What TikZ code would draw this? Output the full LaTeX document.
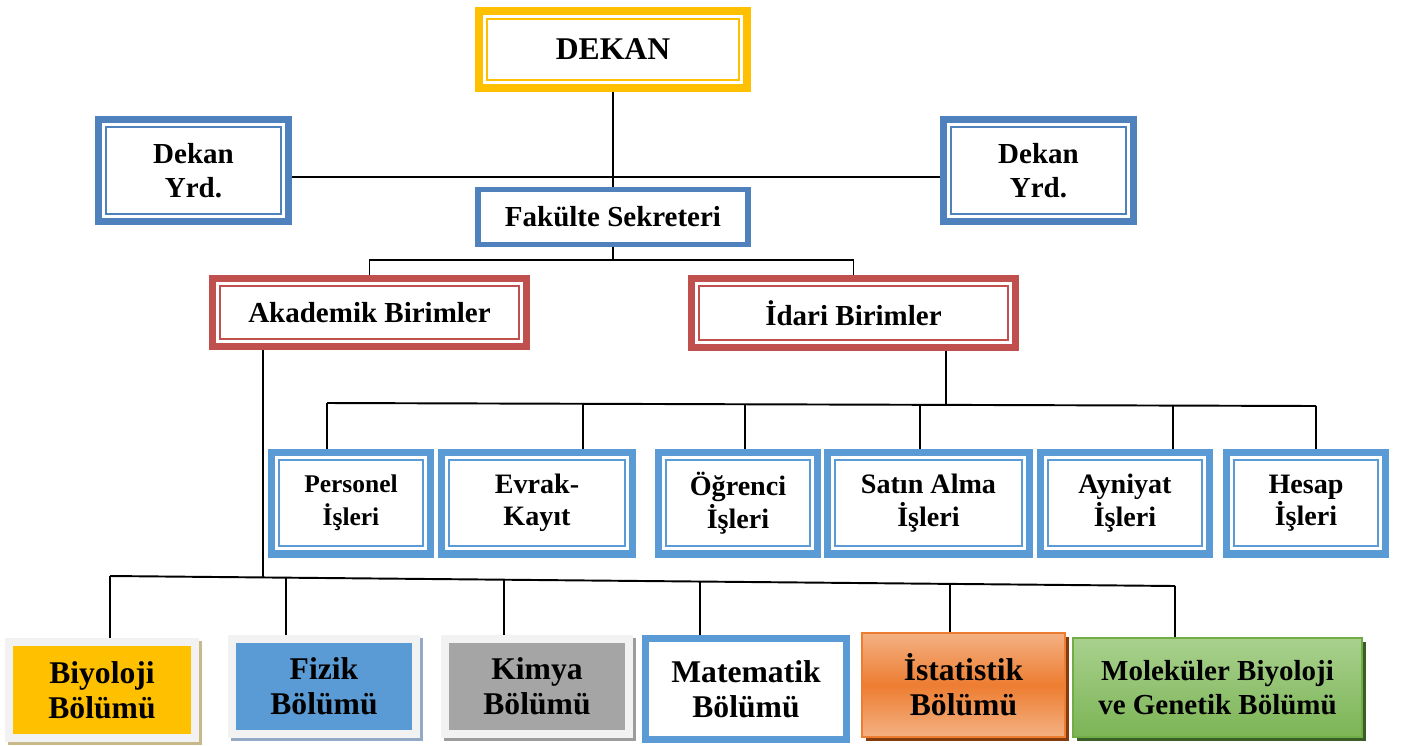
\documentclass[tikz,border=0pt]{standalone}
\usepackage{fontspec}
\setmainfont{Liberation Serif}
\usetikzlibrary{calc}
\usepackage{xcolor}
\definecolor{dekanyellow}{HTML}{FFC000}
\definecolor{dekanblue}{HTML}{4F81BD}
\definecolor{unitred}{HTML}{C0504D}
\definecolor{officeblue}{HTML}{5B9BD5}
\definecolor{framegray}{HTML}{F2F2F2}
\definecolor{biyoshadow}{HTML}{C8B88A}
\definecolor{fizshadow}{HTML}{93A9C6}
\definecolor{kimgray}{HTML}{A5A5A5}
\definecolor{kimshadow}{HTML}{9C9C9C}
\definecolor{istorange}{HTML}{ED7D31}
\definecolor{istlight}{HTML}{F4B183}
\definecolor{istshadow}{HTML}{843C0C}
\definecolor{molgreen}{HTML}{70AD47}
\definecolor{mollight}{HTML}{A9D18E}
\definecolor{molshadow}{HTML}{3B5E26}

\begin{document}
\begin{tikzpicture}[x=0.02cm,y=-0.02cm,
    unit/.style={draw=#1,line width=4pt,fill=white,inner sep=0pt,align=center,
      path picture={\draw[#1,line width=1.1pt]
        ([shift={(4.3pt,-4.3pt)}]path picture bounding box.north west) rectangle
        ([shift={(-4.3pt,4.3pt)}]path picture bounding box.south east);}},
    dept/.style 2 args={fill=#1,draw=framegray,line width=4.5pt,inner sep=0pt,align=center,
      preaction={fill=#2,draw=#2,transform canvas={shift={(1.8pt,-1.8pt)}}}},
    link/.style={line width=1.1pt},
    big/.style={font=\bfseries\fontsize{18}{20}\selectfont},
    mid/.style={font=\bfseries\fontsize{16.5}{19}\selectfont},
    small/.style={font=\bfseries\fontsize{16}{18.5}\selectfont}]
\useasboundingbox (0,0) rectangle (1401,745);

% top
\node[unit=dekanyellow,line width=4.5pt,minimum width=5.36cm,minimum height=1.54cm,big] (dekan) at (613,49.5) {DEKAN};
\node[unit=dekanblue,minimum width=3.8cm,minimum height=2.04cm,mid] (yrdl) at (193.5,170.5) {Dekan\\Yrd.};
\node[unit=dekanblue,minimum width=3.8cm,minimum height=2.04cm,mid] (yrdr) at (1038.5,170.5) {Dekan\\Yrd.};
\node[draw=dekanblue,line width=2.9pt,fill=white,minimum width=5.4cm,minimum height=1.1cm,mid] (fak) at (613,217) {Fakülte Sekreteri};
\node[unit=unitred,minimum width=6.28cm,minimum height=1.36cm,mid] (akad) at (369.5,312.5) {Akademik Birimler};
\node[unit=unitred,minimum width=6.48cm,minimum height=1.38cm,mid] (idari) at (853.5,313) {İdari Birimler};

% idari birimler
\node[unit=officeblue,minimum width=3.18cm,minimum height=2.04cm,font=\bfseries\fontsize{14.5}{18.5}\selectfont] (pers) at (351,503) {Personel\\İşleri};
\node[unit=officeblue,minimum width=3.82cm,minimum height=2.04cm,small] (evrak) at (537,503) {Evrak-\\Kayıt};
\node[unit=officeblue,minimum width=3.18cm,minimum height=2.04cm,small] (ogr) at (738,503) {Öğrenci\\İşleri};
\node[unit=officeblue,minimum width=4.04cm,minimum height=2.04cm,small] (satin) at (928.5,503) {Satın Alma\\İşleri};
\node[unit=officeblue,minimum width=3.38cm,minimum height=2.04cm,small] (ayni) at (1125,503) {Ayniyat\\İşleri};
\node[unit=officeblue,minimum width=3.18cm,minimum height=2.04cm,small] (hesap) at (1306,503) {Hesap\\İşleri};

% bolumler
\node[dept={dekanyellow}{biyoshadow},minimum width=3.72cm,minimum height=1.92cm,big] (biyo) at (102,690) {Biyoloji\\Bölümü};
\node[dept={officeblue}{fizshadow},minimum width=3.68cm,minimum height=1.9cm,big] (fiz) at (324,686.5) {Fizik\\Bölümü};
\node[dept={kimgray}{kimshadow},minimum width=3.68cm,minimum height=1.9cm,big] (kim) at (537,686.5) {Kimya\\Bölümü};
\node[draw=officeblue,line width=4pt,fill=white,inner sep=0pt,align=center,minimum width=4.02cm,minimum height=2.02cm,big] (mat) at (746,689) {Matematik\\Bölümü};
\node[draw=istorange,line width=1.2pt,top color=istlight,bottom color=istlight,middle color=istorange,
  preaction={fill=istshadow,transform canvas={shift={(2.4pt,-2.4pt)}}},
  inner sep=0pt,align=center,minimum width=4.06cm,minimum height=2.08cm,big] (ist) at (963.5,685) {İstatistik\\Bölümü};
\node[draw=molgreen,line width=1.2pt,top color=mollight,bottom color=molgreen!80!mollight,
  preaction={fill=molshadow,transform canvas={shift={(2.4pt,-2.4pt)}}},
  inner sep=0pt,align=center,minimum width=5.78cm,minimum height=1.98cm,mid] (mol) at (1217.5,687.5) {Moleküler Biyoloji\\ve Genetik Bölümü};

% baglantilar
\draw[link] (dekan.south) -- (fak.north);
\draw[link] ([yshift=-0.13cm]yrdl.east) -- ([yshift=-0.13cm]yrdr.west);
\draw[link] (fak.south) -- ++(0,13) -| (akad.north);
\draw[link] (fak.south) ++(0,13) -| (idari.north);

\coordinate (tl) at (327,403);
\coordinate (tr) at (1316,406);
\draw[link] (tl) -- (tr);
\path ($(tl)!0.626!(tr)$) coordinate (di);
\draw[link] (di |- idari.south) -- (di);
\foreach \n/\t in {pers/0,evrak/0.2589,ogr/0.4226,satin/0.5996,ayni/0.8554,hesap/1}{
  \path ($(tl)!\t!(tr)$) coordinate (d\n);
  \draw[link] (d\n) -- (d\n |- \n.north);
}

\coordinate (bl) at (110,576);
\coordinate (br) at (1175,586);
\draw[link] (bl) -- (br);
\path ($(bl)!0.1437!(br)$) coordinate (dak);
\draw[link] (dak |- akad.south) -- (dak);
\foreach \n/\t in {biyo/0,fiz/0.1653,kim/0.3700,mat/0.5540,ist/0.7887,mol/1}{
  \path ($(bl)!\t!(br)$) coordinate (d\n);
  \draw[link] (d\n) -- (d\n |- \n.north);
}
\end{tikzpicture}
\end{document}
